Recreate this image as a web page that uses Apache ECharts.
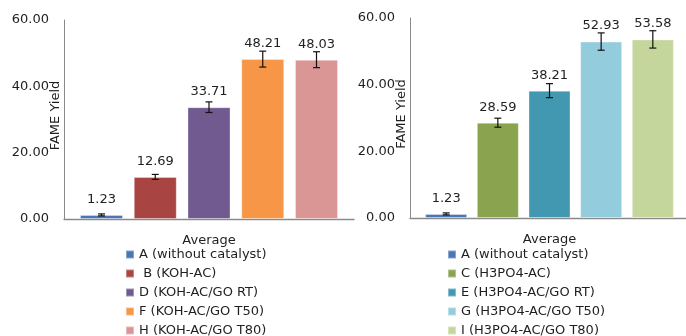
<!DOCTYPE html>
<html>
<head>
<meta charset="utf-8">
<script src="https://cdn.jsdelivr.net/npm/echarts@6/dist/echarts.min.js"></script>
<style>
  html, body { margin: 0; padding: 0; background: #fff; }
  #chart { width: 686px; height: 336px; }
</style>
</head>
<body>
<div id="chart"></div>
<script>
// FAME yield (average of runs) for KOH- and H3PO4-activated carbon catalysts
const category = ['Average'];
const yTicks = [0, 20, 40, 60];

const kohNames = ['A (without catalyst)', ' B (KOH-AC)', 'D (KOH-AC/GO RT)', 'F (KOH-AC/GO T50)', 'H (KOH-AC/GO T80)'];
const kohValues = [1.23, 12.69, 33.71, 48.21, 48.03];
const kohErrors = [0.3, 0.75, 1.6, 2.4, 2.4];
const kohColors = ['#4a76b4', '#a84442', '#705a8f', '#f79646', '#da9694'];

const h3poNames = ['A (without catalyst)', 'C (H3PO4-AC)', 'E (H3PO4-AC/GO RT)', 'G (H3PO4-AC/GO T50)', 'I (H3PO4-AC/GO T80)'];
const h3poValues = [1.23, 28.59, 38.21, 52.93, 53.58];
const h3poErrors = [0.3, 1.35, 2.1, 2.6, 2.6];
const h3poColors = ['#4a76b4', '#8aa34e', '#4298b0', '#93ccdd', '#c4d69b'];

const FONT = 'DejaVu Sans';
const TEXT = '#1f1f1f';
const AXIS = '#8a8a8a';

// bar layout per panel, shared by the bars and the error whiskers
const panels = [
  { names: kohNames, values: kohValues, errors: kohErrors, colors: kohColors, barWidth: 43, gap: 0.25 },
  { names: h3poNames, values: h3poValues, errors: h3poErrors, colors: h3poColors, barWidth: 42, gap: 0.23 }
];

function barOffset(p, i) {
  const n = p.values.length;
  const step = p.barWidth * (1 + p.gap);
  const total = n * p.barWidth + (n - 1) * p.gap * p.barWidth;
  return -total / 2 + i * step + p.barWidth / 2;
}

const grids = [
  { left: 64, right: 332, top: 20, bottom: 117, outerBoundsMode: 'none', containLabel: false },
  { left: 410, right: -3, top: 18, bottom: 118, outerBoundsMode: 'none', containLabel: false }
];

const xAxes = grids.map((g, k) => ({
  type: 'category', gridIndex: k, data: category,
  axisLine: { lineStyle: { color: AXIS, width: 1.3 } },
  axisTick: { show: false },
  axisLabel: { color: TEXT, fontFamily: FONT, fontSize: 13, margin: 15 }
}));

const yAxes = grids.map((g, k) => ({
  type: 'value', gridIndex: k, min: yTicks[0], max: yTicks[yTicks.length - 1], interval: 20,
  name: 'FAME Yield', nameLocation: 'middle', nameRotate: 90, nameGap: 2, nameMoveOverlap: false,
  nameTextStyle: { color: TEXT, fontFamily: FONT, fontSize: 13, padding: [0, 0, 0, 8] },
  axisLine: { show: true, lineStyle: { color: AXIS, width: 1 } },
  axisTick: { show: false },
  splitLine: { show: false },
  axisLabel: { color: TEXT, fontFamily: FONT, fontSize: 13, margin: 15, formatter: v => v.toFixed(2) }
}));

const series = [];
panels.forEach((p, k) => {
  p.values.forEach((v, i) => {
    series.push({
      type: 'bar', name: p.names[i], xAxisIndex: k, yAxisIndex: k,
      barWidth: p.barWidth, barGap: (p.gap * 100) + '%',
      data: [v],
      itemStyle: { color: p.colors[i], borderColor: 'rgba(255,255,255,0.35)', borderWidth: 1 },
      label: {
        show: true, position: 'top', distance: 9, color: TEXT,
        fontFamily: FONT, fontSize: 13, formatter: d => d.value.toFixed(2)
      },
      z: 2
    });
  });
  series.push({
    type: 'custom', name: 'err' + k, xAxisIndex: k, yAxisIndex: k,
    data: p.values.map((v, i) => [i, v - p.errors[i], v + p.errors[i]]),
    renderItem: (params, api) => {
      const i = api.value(0);
      const base = api.coord([0, 0])[0] + barOffset(p, i);
      const lo = api.coord([0, api.value(1)])[1];
      const hi = api.coord([0, api.value(2)])[1];
      const cap = 3.5;
      const style = { stroke: '#111', lineWidth: 1.2, fill: null };
      return {
        type: 'group',
        children: [
          { type: 'line', shape: { x1: base, y1: lo, x2: base, y2: hi }, style },
          { type: 'line', shape: { x1: base - cap, y1: lo, x2: base + cap, y2: lo }, style },
          { type: 'line', shape: { x1: base - cap, y1: hi, x2: base + cap, y2: hi }, style }
        ]
      };
    },
    z: 5, silent: true
  });
});

const legendCommon = {
  orient: 'vertical', top: 247, height: 140, padding: 0,
  itemWidth: 8, itemHeight: 8, itemGap: 4, itemTextGap: 6,
  icon: 'rect', selectedMode: false,
  textStyle: { color: TEXT, fontFamily: FONT, fontSize: 13, lineHeight: 15 }
};

const chart = echarts.init(document.getElementById('chart'), null, { renderer: 'canvas' });
chart.setOption({
  animation: false,
  grid: grids,
  xAxis: xAxes,
  yAxis: yAxes,
  legend: [
    Object.assign({ left: 125, data: kohNames }, legendCommon),
    Object.assign({ left: 447, data: h3poNames }, legendCommon)
  ],
  series
});
</script>
</body>
</html>
